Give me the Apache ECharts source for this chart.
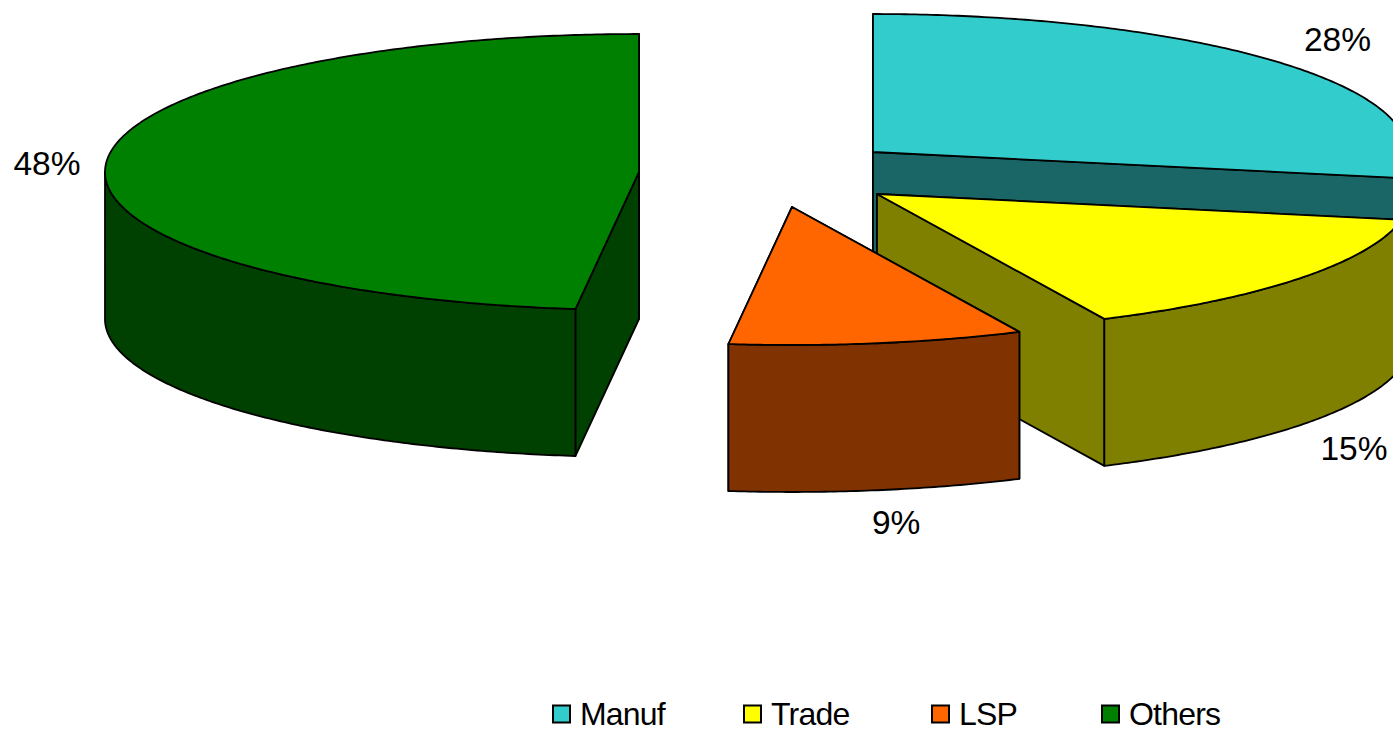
<!DOCTYPE html>
<html>
<head>
<meta charset="utf-8">
<style>
html,body{margin:0;padding:0;background:#fff;}
#chart{width:1393px;height:733px;}
svg text[style*="32px"]{letter-spacing:-0.8px;}
</style>
<script src="https://cdn.jsdelivr.net/npm/echarts@6/dist/echarts.min.js"></script>
</head>
<body>
<div id="chart"></div>
<script>
// Data
const categories = ['Manuf', 'Trade', 'LSP', 'Others'];
const shares = [28, 15, 8.9, 48.1];

// Styles
const faceColors = ['#33CCCC', '#FFFF00', '#FF6600', '#008000'];
const wallColors = ['#1A6666', '#808000', '#803300', '#004000'];

// Layout of the exploded 3-D pie
const RX = 534, RY = 138, DEPTH = 147;
const apexX = [873, 877, 792, 639];
const apexY = [152, 194, 207, 172];
const labelOffsetX = [53, 55, 19, -59];
const labelOffsetY = [-25, 23, 32, 0];
const drawOrder = [3, 0, 1, 2];
const legendLeft = [552, 743, 931, 1101];

const total = shares.reduce((a, b) => a + b, 0);
const starts = [];
shares.reduce((acc, v, i) => { starts[i] = acc; return acc + v; }, 0);

const line = { stroke: '#000', lineWidth: 1.8, lineJoin: 'round' };

function makeSlice(idx) {
  return function (params, api) {
    const value = api.value(0);
    const a0 = starts[idx] / total * 2 * Math.PI;
    const a1 = a0 + value / total * 2 * Math.PI;
    const cx = apexX[idx], cy = apexY[idx];
    const pt = (a, d) => [cx + RX * Math.sin(a), cy - RY * Math.cos(a) + (d || 0)];
    const arc = (from, to, d) => {
      const pts = [];
      const n = Math.max(2, Math.ceil((to - from) / 0.01));
      for (let i = 0; i <= n; i++) pts.push(pt(from + (to - from) * i / n, d));
      return pts;
    };
    const poly = (points, fill, z) => ({
      type: 'polygon', shape: { points },
      style: Object.assign({ fill }, line), z2: z
    });
    const children = [];
    const apex = [cx, cy], apexLow = [cx, cy + DEPTH];
    // cut faces
    [a0, a1].forEach(a => {
      children.push(poly([apex, pt(a), pt(a, DEPTH), apexLow], wallColors[idx], 1));
    });
    // outer wall: only the front half of the rim is visible
    const w0 = Math.max(a0, Math.PI / 2), w1 = Math.min(a1, 3 * Math.PI / 2);
    if (w1 > w0) {
      children.push(poly(arc(w0, w1, 0).concat(arc(w0, w1, DEPTH).reverse()), wallColors[idx], 2));
    }
    // top face
    children.push(poly([apex].concat(arc(a0, a1, 0)), faceColors[idx], 3));
    // percentage label
    const mid = (a0 + a1) / 2;
    const anchor = pt(mid, Math.cos(mid) < 0 ? DEPTH : 0);
    children.push({
      type: 'text', z2: 4,
      x: anchor[0] + labelOffsetX[idx],
      y: anchor[1] + labelOffsetY[idx],
      style: {
        text: Math.round(value) + '%', fill: '#000',
        font: '33.5px "Liberation Sans", Arial, sans-serif',
        align: 'center', verticalAlign: 'middle'
      }
    });
    return { type: 'group', children };
  };
}

const series = drawOrder.map(idx => ({
  type: 'custom',
  name: categories[idx],
  coordinateSystem: 'none',
  silent: true,
  clip: false,
  animation: false,
  itemStyle: { color: faceColors[idx] },
  data: [[shares[idx]]],
  renderItem: makeSlice(idx)
}));

const legends = categories.map((name, i) => ({
  data: [name],
  orient: 'horizontal',
  left: legendLeft[i],
  top: 698,
  padding: 0,
  itemWidth: 17,
  itemHeight: 17,
  icon: 'rect',
  selectedMode: false,
  itemStyle: { borderColor: '#000', borderWidth: 2 },
  textStyle: {
    color: '#000',
    fontFamily: '"Liberation Sans", Arial, sans-serif',
    fontSize: 32,
    lineHeight: 28,
    padding: [0, 0, 0, 5]
  }
}));

const chart = echarts.init(document.getElementById('chart'), null, { renderer: 'svg' });
chart.setOption({
  animation: false,
  backgroundColor: '#fff',
  legend: legends,
  series
});
</script>
</body>
</html>
